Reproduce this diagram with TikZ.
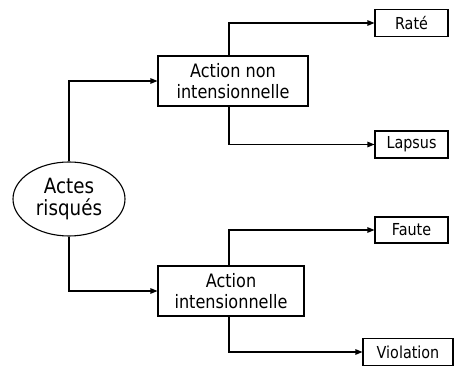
\documentclass[tikz,border=0pt]{standalone}
\usepackage{fontspec}
\setmainfont{DejaVu Sans}[FakeStretch=0.87]
\usetikzlibrary{arrows.meta,shapes.geometric}

\tikzset{
  link/.style={line width=1.1pt, -{Triangle[length=7pt,width=5.5pt]}},
  plain/.style={line width=1.1pt},
  rootnode/.style={ellipse, draw, line width=1.1pt, inner sep=0pt,
    minimum width=112pt, minimum height=74pt, align=center,
    font=\fontsize{21}{22}\selectfont},
  midbox/.style={rectangle, draw, line width=1.1pt, inner sep=0pt,
    minimum height=50pt, align=center,
    font=\fontsize{18.5}{21}\selectfont},
  leafbox/.style={rectangle, draw, line width=1.1pt, inner sep=0pt,
    minimum width=73pt, minimum height=27pt, align=center,
    font=\fontsize{16.5}{18}\selectfont}
}

\begin{document}
\begin{tikzpicture}[x=1pt,y=1pt]
  \useasboundingbox (0,0) rectangle (455,366);

  % root of the tree
  \node[rootnode] (risk) at (69,167) {Actes\\risqués};

  % two kinds of action
  \node[midbox, minimum width=150pt] (nonint) at (233,285) {Action non\\intensionnelle};
  \node[midbox, minimum width=146pt] (int) at (231,75) {Action\\intensionnelle};

  % leaves
  \node[leafbox] (rate) at (411.5,343) {Raté};
  \node[leafbox] (lapsus) at (411.5,221.5) {Lapsus};
  \node[leafbox, minimum height=26pt] (faute) at (411.5,136) {Faute};
  \node[leafbox, minimum width=90pt] (violation) at (408,14) {Violation};

  % x position of the branching stems
  \coordinate (stem) at (229,0);

  % connectors
  \draw[link] (risk.north) |- (nonint.west);
  \draw[link] (risk.south) |- (int.west);

  \draw[link] (nonint.north -| stem) |- (rate.west);
  \draw[link] (nonint.south -| stem) |- (lapsus.west);
  \draw[link] (int.north -| stem) |- (faute.west);
  \draw[link] (int.south -| stem) |- (violation.west);
\end{tikzpicture}
\end{document}
